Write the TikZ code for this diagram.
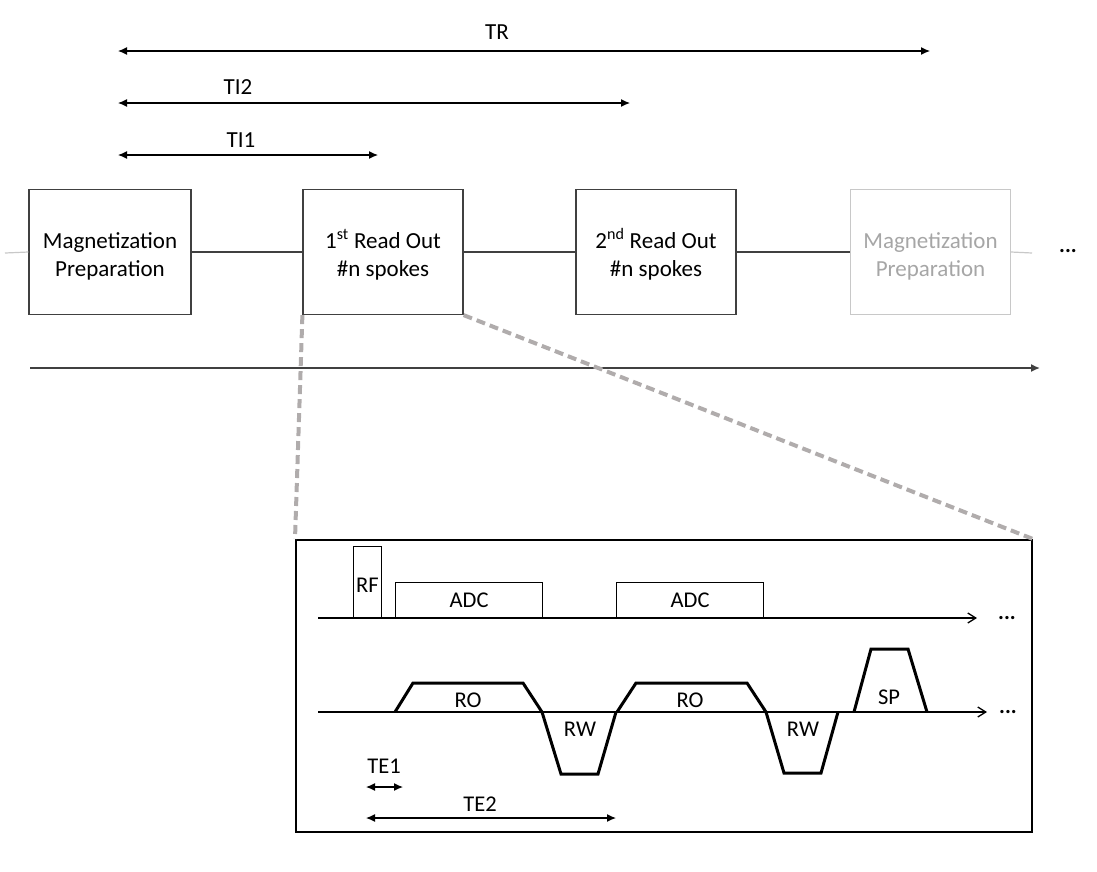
\documentclass[tikz,border=0pt]{standalone}
\usepackage{fontspec}
\setmainfont{Carlito}
\usetikzlibrary{arrows.meta}
\definecolor{boxline}{HTML}{404040}
\definecolor{fadeline}{HTML}{C8C8C8}
\definecolor{fadetext}{HTML}{A6A6A6}
\definecolor{zoomgray}{HTML}{B0ACAC}
\tikzset{
  lbl/.style={font=\fontsize{23}{28}\selectfont, inner sep=0pt, align=center},
  ilbl/.style={font=\fontsize{22.5}{28}\selectfont, inner sep=0pt, align=center},
  blk/.style={draw=boxline, line width=1.2pt, minimum width=160pt, minimum height=125pt, font=\fontsize{23}{28}\selectfont, align=center, inner sep=0pt},
  fadeblk/.style={blk, draw=fadeline, text=fadetext},
  link/.style={draw=boxline, line width=1.2pt},
  fadelink/.style={draw=fadeline, line width=1.2pt},
  dim/.style={line width=1.2pt, {Latex[length=9pt,width=8pt]}-{Latex[length=9pt,width=8pt]}},
  axis/.style={line width=1.3pt, -{Straight Barb[length=8pt,width=10pt]}},
  grad/.style={line width=3pt, line join=miter},
  zoomline/.style={draw=zoomgray, line width=4pt, dash pattern=on 9pt off 5pt},
  dots/.style={font=\fontsize{22}{28}\selectfont\bfseries, inner sep=0pt}
}
\begin{document}
\begin{tikzpicture}[x=1pt,y=-1pt]
\useasboundingbox (0,0) rectangle (1097,871);

% top dimension arrows
\coordinate (trA) at (118,51); \coordinate (trB) at (930,51);
\coordinate (ti2A) at (118,103); \coordinate (ti2B) at (630,103);
\coordinate (ti1A) at (118,155); \coordinate (ti1B) at (378,155);
\draw[dim] (trA) -- (trB);
\draw[dim] (ti2A) -- (ti2B);
\draw[dim] (ti1A) -- (ti1B);
\node[lbl] (trl) at (497,32) {TR};
\node[lbl] (ti2l) at (238,87) {TI2};
\node[lbl] (ti1l) at (241,140) {TI1};

% blocks
\node[blk, minimum width=162pt] (mp1) at (110,252) {\rule{0pt}{6pt}\\[-9pt]Magnetization\\Preparation};
\node[blk] (ro1) at (383,252) {\rule{0pt}{6pt}\\[-9pt]1\textsuperscript{st} Read Out\\\#n spokes};
\node[blk] (ro2) at (656,252) {\rule{0pt}{6pt}\\[-9pt]2\textsuperscript{nd} Read Out\\\#n spokes};
\node[fadeblk] (mp2) at (930.5,252) {\rule{0pt}{6pt}\\[-9pt]Magnetization\\Preparation};
\coordinate (lstub) at (5,253);
\coordinate (rstub) at (1032,253);
\draw[fadelink] (lstub) -- (mp1.west);
\draw[link] (mp1.east) -- (ro1.west);
\draw[link] (ro1.east) -- (ro2.west);
\draw[link] (ro2.east) -- (mp2.west);
\draw[fadelink] (mp2.east) -- (rstub);
\node[dots] (topdots) at (1068,251) {...};

% time axis
\coordinate (tA) at (30,368); \coordinate (tB) at (1040,368);
\draw[draw=boxline, line width=1.5pt, -{Latex[length=9pt,width=8pt]}] (tA) -- (tB);

% inset
\node[draw=black, line width=2pt, minimum width=736pt, minimum height=292pt, inner sep=0pt] (inset) at (664,686) {};
\draw[zoomline] (ro1.south west) -- (inset.north west);
\draw[zoomline] (ro1.south east) -- (inset.north east);

% RF / ADC line
\node[draw=black, line width=1.2pt, minimum width=28pt, minimum height=71pt, inner sep=0pt, anchor=south west] (rf) at (353,618) {};
\node[ilbl] (rfl) at (367.5,585) {RF};
\node[draw=black, line width=1.2pt, minimum width=147pt, minimum height=35pt, anchor=south west, font=\fontsize{22.5}{28}\selectfont, inner sep=0pt] (adc1) at (395,618) {ADC};
\node[draw=black, line width=1.2pt, minimum width=147pt, minimum height=35pt, anchor=south west, font=\fontsize{22.5}{28}\selectfont, inner sep=0pt] (adc2) at (616,618) {ADC};
\coordinate (a1s) at (318,618); \coordinate (a1e) at (977,618);
\draw[axis] (a1s) -- (a1e);
\node[dots] (dots1) at (1007,618) {...};

% gradient line
\coordinate (a2s) at (318,712); \coordinate (a2e) at (987,712);
\draw[axis] (a2s) -- (a2e);
\node[dots] (dots2) at (1008,712) {...};
\draw[grad] (395,712) -- (413,683) -- (523,683) -- (542,712);
\draw[grad] (542,712) -- (561,774) -- (598,774) -- (616,712);
\draw[grad] (617,712) -- (636,683) -- (747,683) -- (766,712);
\draw[grad] (766,712) -- (784,773) -- (821,773) -- (838,712);
\draw[grad] (854,712) -- (871,649) -- (908,649) -- (927,712);
\node[ilbl] (ro1l) at (468,700) {RO};
\node[ilbl] (rw1l) at (580,729) {RW};
\node[ilbl] (ro2l) at (690,700) {RO};
\node[ilbl] (rw2l) at (803,729) {RW};
\node[ilbl] (spl) at (889,697) {SP};

% TE
\coordinate (te1A) at (366,787); \coordinate (te1B) at (403,787);
\coordinate (te2A) at (366,818); \coordinate (te2B) at (616,818);
\draw[dim] (te1A) -- (te1B);
\draw[dim] (te2A) -- (te2B);
\node[ilbl] (te1l) at (384,766) {TE1};
\node[ilbl] (te2l) at (480,804) {TE2};
\end{tikzpicture}
\end{document}
